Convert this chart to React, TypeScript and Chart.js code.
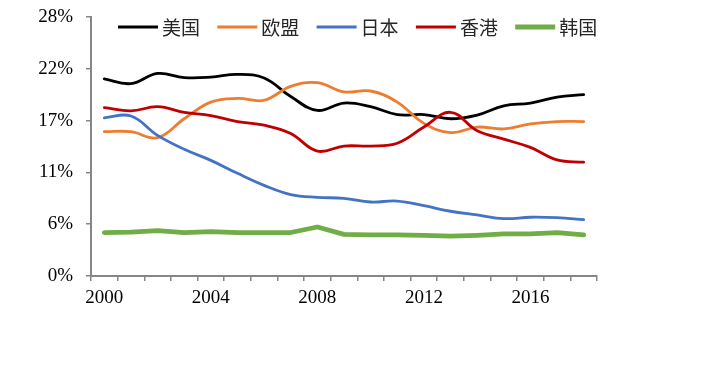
import React, { useEffect, useRef } from 'react';
import { Chart, registerables } from 'chart.js';

Chart.register(...registerables);

const years = ['2000','2001','2002','2003','2004','2005','2006','2007','2008','2009','2010','2011','2012','2013','2014','2015','2016','2017','2018'];
const xTickLabels = ['2000', '2004', '2008', '2012', '2016'];
const yTickValues = [0, 5.6, 11.2, 16.8, 22.4, 28];

const seriesNames = ['美国', '欧盟', '日本', '香港', '韩国'];
const usa = [21.3, 20.8, 21.9, 21.45, 21.5, 21.8, 21.4, 19.4, 17.9, 18.7, 18.3, 17.45, 17.45, 17.0, 17.4, 18.4, 18.7, 19.35, 19.6];
const eu = [15.6, 15.6, 14.95, 17.0, 18.8, 19.2, 19.0, 20.5, 20.9, 19.9, 20.0, 18.8, 16.5, 15.5, 16.1, 15.9, 16.45, 16.7, 16.7];
const japan = [17.1, 17.3, 15.2, 13.7, 12.5, 11.1, 9.8, 8.8, 8.5, 8.4, 8.0, 8.1, 7.6, 7.0, 6.6, 6.2, 6.35, 6.3, 6.1];
const hongkong = [18.2, 17.85, 18.3, 17.7, 17.35, 16.7, 16.3, 15.4, 13.5, 14.05, 14.05, 14.35, 16.1, 17.7, 15.7, 14.8, 13.9, 12.55, 12.3];
const korea = [4.7, 4.75, 4.9, 4.7, 4.8, 4.7, 4.7, 4.7, 5.3, 4.5, 4.45, 4.45, 4.4, 4.3, 4.4, 4.55, 4.55, 4.7, 4.45];

const seriesValues = [usa, eu, japan, hongkong, korea];
const seriesColors = ['#000000', '#ED7D31', '#4472C4', '#C00000', '#70AD47'];
const seriesWidths = [2.8, 2.8, 2.8, 2.8, 4.8];
const seriesTension = [0.4, 0.4, 0.4, 0.4, 0];

const insideLegend = {
  id: 'insideLegend',
  afterDraw(chart: any) {
    const { ctx, chartArea } = chart;
    ctx.save();
    const y = chartArea.top + 10;
    let x = chartArea.left + 27;
    chart.data.datasets.forEach((ds: any) => {
      ctx.strokeStyle = ds.borderColor;
      ctx.lineWidth = ds.borderWidth;
      ctx.beginPath();
      ctx.moveTo(x, y);
      ctx.lineTo(x + 40, y);
      ctx.stroke();
      ctx.fillStyle = '#262626';
      ctx.font = '19px "Noto Sans CJK SC"';
      ctx.textBaseline = 'middle';
      ctx.textAlign = 'left';
      ctx.fillText(ds.label, x + 44, y + 1);
      x += 99.3;
    });
    ctx.restore();
  },
};

export default function App() {
  const canvasRef = useRef<HTMLCanvasElement | null>(null);

  useEffect(() => {
    const canvas = canvasRef.current;
    if (!canvas) return;
    const tickFont = { family: '"Liberation Serif", "Times New Roman", serif', size: 19 };
    const chart = new Chart(canvas, {
      type: 'line',
      data: {
        labels: years,
        datasets: seriesNames.map((name, i) => ({
          label: name,
          data: seriesValues[i],
          borderColor: seriesColors[i],
          backgroundColor: seriesColors[i],
          borderWidth: seriesWidths[i],
          tension: seriesTension[i],
          pointRadius: 0,
          fill: false,
          order: seriesNames.length - i,
          borderCapStyle: 'round',
          borderJoinStyle: 'round',
        })),
      },
      options: {
        responsive: false,
        animation: false,
        events: [],
        layout: { padding: { left: 0, right: 119, top: 17, bottom: 59 } },
        plugins: {
          legend: { display: false },
          tooltip: { enabled: false },
        },
        scales: {
          x: {
            type: 'category',
            offset: true,
            grid: {
              display: true,
              drawOnChartArea: false,
              drawTicks: true,
              tickLength: 5,
              color: '#868686',
              lineWidth: 1.5,
              offset: true,
            },
            border: { display: true, color: '#868686', width: 2 },
            ticks: {
              autoSkip: false,
              maxRotation: 0,
              minRotation: 0,
              padding: 6,
              color: '#000',
              font: tickFont,
              callback: (_v: any, idx: number) => (xTickLabels.includes(years[idx]) ? years[idx] : ''),
            },
            afterFit: (s: any) => {
              s.height = 40;
              s.paddingLeft = 0;
              s.paddingRight = 0;
            },
          },
          y: {
            min: 0,
            max: 28,
            grid: {
              display: true,
              drawOnChartArea: false,
              drawTicks: true,
              tickLength: 5,
              color: '#868686',
              lineWidth: 1.5,
            },
            border: { display: true, color: '#868686', width: 2 },
            ticks: {
              padding: 13,
              color: '#000',
              font: tickFont,
              callback: (v: any) => Math.round(Number(v)) + '%',
            },
            afterBuildTicks: (s: any) => {
              s.ticks = yTickValues.map((v) => ({ value: v }));
            },
            afterFit: (s: any) => {
              s.width = 91;
              s.paddingTop = 0;
              s.paddingBottom = 0;
            },
          },
        },
      } as any,
      plugins: [insideLegend],
    });
    return () => chart.destroy();
  }, []);

  return (
    <div style={{ position: 'absolute', left: 0, top: 0, width: 716, height: 375, background: '#fff' }}>
      <canvas ref={canvasRef} width={716} height={375} style={{ display: 'block', width: 716, height: 375 }} />
    </div>
  );
}
